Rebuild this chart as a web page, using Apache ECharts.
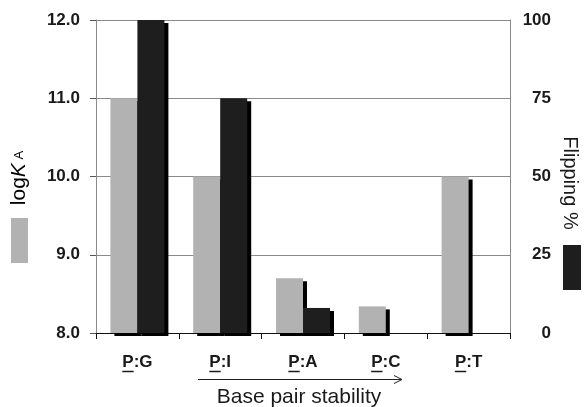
<!DOCTYPE html>
<html>
<head>
<meta charset="utf-8">
<script src="https://cdn.jsdelivr.net/npm/echarts@6/dist/echarts.min.js"></script>
<style>html,body{margin:0;padding:0;background:#fff;}#c{width:584px;height:407px;}</style>
</head>
<body>
<div id="c"></div>
<script>
var categories = ['P:G', 'P:I', 'P:A', 'P:C', 'P:T'];
var logKA = [11.0, 10.0, 8.7, 8.34, 10.0];
var flipping = [100, 75, 8, 0, 0];
var leftTicks = [8, 12, 1];
var rightTicks = [0, 100, 25];

var FONT = 'Liberation Sans, Arial, sans-serif';
var LABEL_SIZE = 17;
var chart = echarts.init(document.getElementById('c'), null, {renderer: 'canvas'});

var noShadow = {borderWidth: 0, shadowBlur: 0, shadowOffsetX: 0, shadowOffsetY: 0, shadowColor: 'rgba(0,0,0,0)'};
var option = {
  animation: false,
  backgroundColor: '#fff',
  grid: {left: 96, right: 74, top: 20, bottom: 74},
  legend: [
    {data: ['logKA'], left: 11, top: 218, orient: 'vertical', itemWidth: 17, itemHeight: 45,
     icon: 'rect', formatter: function(){return '';}, selectedMode: false, padding: 0, itemGap: 0,
     itemStyle: noShadow},
    {data: ['Flipping'], left: 563, top: 245, orient: 'vertical', itemWidth: 18, itemHeight: 45,
     icon: 'rect', formatter: function(){return '';}, selectedMode: false, padding: 0, itemGap: 0,
     itemStyle: noShadow}
  ],
  xAxis: {
    type: 'category',
    data: categories,
    boundaryGap: true,
    axisLine: {lineStyle: {color: '#111', width: 1}},
    axisTick: {show: true, length: 6, lineStyle: {color: '#111'}},
    axisLabel: {
      margin: 21, fontFamily: FONT, fontSize: LABEL_SIZE, fontWeight: 'bold', color: '#1a1a1a'
    }
  },
  yAxis: [
    {
      type: 'value', min: leftTicks[0], max: leftTicks[1], interval: leftTicks[2],
      position: 'left',
      axisLine: {show: true, lineStyle: {color: '#8a8a8a'}},
      axisTick: {show: true, length: 6, lineStyle: {color: '#555'}},
      splitLine: {show: true, lineStyle: {color: '#8a8a8a', width: 1}},
      axisLabel: {margin: 16, fontFamily: FONT, fontSize: LABEL_SIZE, fontWeight: 'bold', color: '#1a1a1a',
        formatter: function(v){return v.toFixed(1);}}
    },
    {
      type: 'value', min: rightTicks[0], max: rightTicks[1], interval: rightTicks[2],
      position: 'right',
      axisLine: {show: true, lineStyle: {color: '#8a8a8a'}},
      axisTick: {show: false},
      splitLine: {show: false},
      axisLabel: {margin: 41, align: 'right', fontFamily: FONT, fontSize: LABEL_SIZE, fontWeight: 'bold', color: '#1a1a1a'}
    }
  ],
  series: [
    {
      name: 'logKA', type: 'bar', yAxisIndex: 0, data: logKA, barWidth: 27, barGap: '0%',
      itemStyle: {color: '#b2b2b2', borderWidth: 0,
        shadowColor: '#000', shadowBlur: 0, shadowOffsetX: 4, shadowOffsetY: 3}
    },
    {
      name: 'Flipping', type: 'bar', yAxisIndex: 1, data: flipping, barWidth: 27, barGap: '0%',
      itemStyle: {color: '#1e1e1e', borderWidth: 0,
        shadowColor: '#000', shadowBlur: 0, shadowOffsetX: 4, shadowOffsetY: 3}
    }
  ]
};
chart.setOption(option);

// underlines for "P" in category labels, and annotations
var cv = document.createElement('canvas').getContext('2d');
cv.font = 'bold ' + LABEL_SIZE + 'px ' + FONT;
var axisY = chart.convertToPixel({yAxisIndex: 0}, leftTicks[0]);
var graphics = [];
categories.forEach(function(cat){
  var cx = chart.convertToPixel({xAxisIndex: 0}, cat);
  var w = cv.measureText(cat).width;
  var wp = cv.measureText(cat.charAt(0)).width;
  var x0 = cx - w / 2;
  var uy = axisY + 21 + LABEL_SIZE + 0.5;
  graphics.push({type: 'line', silent: true,
    shape: {x1: x0, y1: uy, x2: x0 + wp, y2: uy},
    style: {stroke: '#1a1a1a', lineWidth: 1.5}});
});
graphics.push({type: 'line', silent: true, shape: {x1: 198, y1: 379.5, x2: 401, y2: 379.5}, style: {stroke: '#222', lineWidth: 1}});
graphics.push({type: 'polyline', silent: true, shape: {points: [[394, 375.5], [402, 379.5], [394, 383.5]]}, style: {stroke: '#222', lineWidth: 1, fill: null}});
graphics.push({type: 'text', silent: true, x: 299, y: 397,
  style: {text: 'Base pair stability', font: '21px ' + FONT, fill: '#1a1a1a', align: 'center', verticalAlign: 'middle'}});
graphics.push({type: 'text', silent: true, x: 19, y: 178, rotation: Math.PI / 2,
  style: {text: '{n|log}{k|K}{s| A}', align: 'center', verticalAlign: 'middle',
    rich: {
      n: {fontFamily: FONT, fontSize: 21, color: '#1a1a1a'},
      k: {fontFamily: FONT, fontSize: 21, fontStyle: 'italic', color: '#1a1a1a'},
      s: {fontFamily: FONT, fontSize: 13, color: '#1a1a1a', verticalAlign: 'middle'}
    }}});
graphics.push({type: 'text', silent: true, x: 570, y: 183, rotation: -Math.PI / 2,
  style: {text: 'Flipping %', font: '20px ' + FONT, fill: '#1a1a1a', align: 'center', verticalAlign: 'middle'}});
chart.setOption({graphic: graphics});
</script>
</body>
</html>
